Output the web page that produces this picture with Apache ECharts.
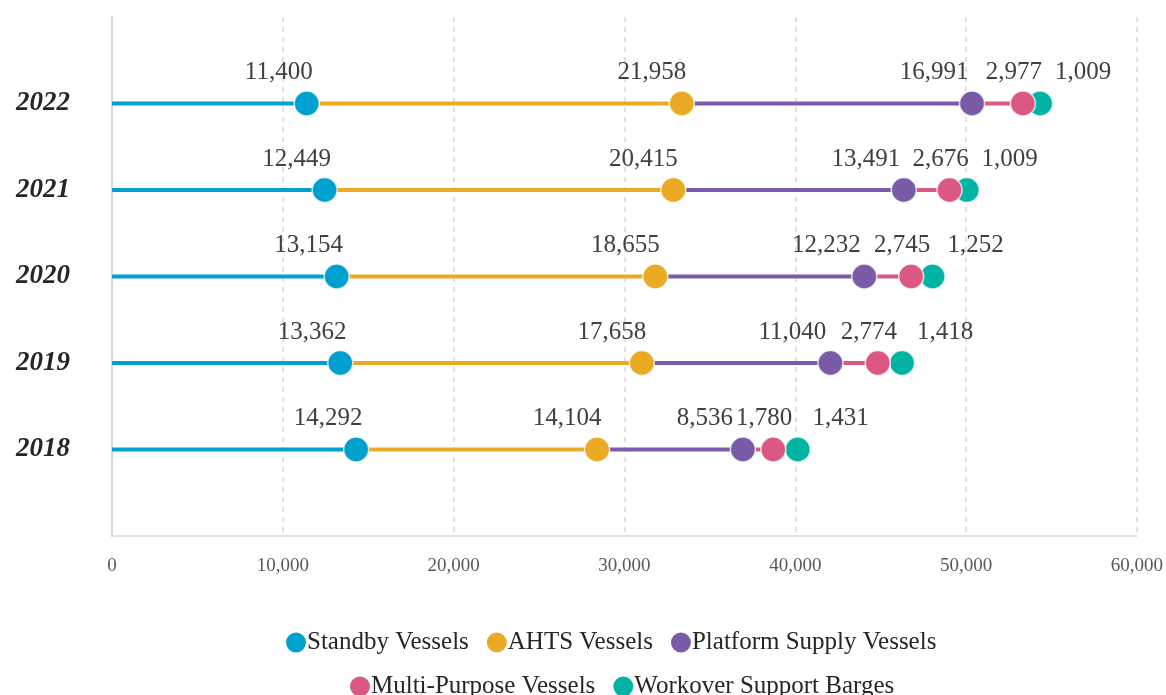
<!DOCTYPE html>
<html>
<head>
<meta charset="utf-8">
<script src="https://cdn.jsdelivr.net/npm/echarts@6/dist/echarts.min.js"></script>
<style>
html,body{margin:0;padding:0;background:#fff;}
#chart{width:1166px;height:695px;}
</style>
</head>
<body>
<div id="chart"></div>
<script>
const years = ['2018', '2019', '2020', '2021', '2022'];
const standby = [14292, 13362, 13154, 12449, 11400];
const ahts = [14104, 17658, 18655, 20415, 21958];
const platform = [8536, 11040, 12232, 13491, 16991];
const multiPurpose = [1780, 2774, 2745, 2676, 2977];
const workover = [1431, 1418, 1252, 1009, 1009];
const seriesNames = ['Standby Vessels', 'AHTS Vessels', 'Platform Supply Vessels', 'Multi-Purpose Vessels', 'Workover Support Barges'];
const xTicks = [0, 10000, 20000, 30000, 40000, 50000, 60000];

const colors = ['#00A0CF', '#EBAA24', '#7A5BA7', '#DB5883', '#00B3A2'];
const labelDx = [-28, -30, -38, -9, 43];
const allSeries = [standby, ahts, platform, multiPurpose, workover];
const SERIF = '"Liberation Serif", "DejaVu Serif", serif';

const cum = years.map(() => 0);
const seriesList = allSeries.map((vals, si) => {
  const data = vals.map((v, yi) => {
    const start = cum[yi];
    const end = start + v;
    cum[yi] = end;
    return [start, end, yi + 1, v];
  });
  return {
    name: seriesNames[si],
    type: 'custom',
    z: 10 - si,
    itemStyle: { color: colors[si] },
    encode: { x: [0, 1], y: 2 },
    data: data,
    renderItem: function (params, api) {
      const s = api.coord([api.value(0), api.value(2)]);
      const e = api.coord([api.value(1), api.value(2)]);
      const val = api.value(3);
      return {
        type: 'group',
        children: [
          { type: 'line', shape: { x1: s[0], y1: s[1], x2: e[0], y2: e[1] },
            style: { stroke: colors[si], lineWidth: 4 } },
          { type: 'circle', shape: { cx: e[0], cy: e[1], r: 12.5 },
            style: { fill: colors[si], stroke: 'rgba(255,255,255,0.75)', lineWidth: 1.5 } },
          { type: 'text', x: e[0] + labelDx[si], y: e[1] - 31,
            style: { text: val.toLocaleString('en-US'), fill: '#404040',
              font: '25px ' + SERIF, align: 'center', verticalAlign: 'middle' } }
        ]
      };
    }
  };
});

const legendBase = {
  icon: 'circle',
  itemWidth: 20, itemHeight: 20, itemGap: 18,
  textStyle: { fontSize: 25, color: '#262626', fontFamily: SERIF, lineHeight: 33, padding: [0, 0, 0, -4] }
};

const chart = echarts.init(document.getElementById('chart'));
chart.setOption({
  animation: false,
  grid: { left: 112, right: 28, top: 17, bottom: 159, containLabel: false },
  xAxis: {
    type: 'value', min: 0, max: 60000, interval: 10000,
    axisLine: { show: true, lineStyle: { color: '#D9D9D9', width: 1.5 } },
    axisTick: { show: false },
    splitLine: { show: true, lineStyle: { color: '#D9D9D9', type: [5, 5], width: 1.5 } },
    axisLabel: {
      margin: 21, color: '#595959', fontSize: 19, fontFamily: SERIF,
      formatter: function (v) { return xTicks.indexOf(v) >= 0 ? v.toLocaleString('en-US') : ''; }
    }
  },
  yAxis: {
    type: 'category', boundaryGap: false,
    data: [''].concat(years).concat(['']),
    axisLine: { show: true, lineStyle: { color: '#D9D9D9', width: 2 } },
    axisTick: { show: false },
    splitLine: { show: false },
    axisLabel: { margin: 42, color: '#262626', fontSize: 27, fontWeight: 'bold', fontStyle: 'italic', fontFamily: SERIF }
  },
  legend: [
    Object.assign({}, legendBase, { data: seriesNames.slice(0, 3), top: 621, left: 281 }),
    Object.assign({}, legendBase, { data: seriesNames.slice(3), top: 665, left: 345 })
  ],
  series: seriesList
});
</script>
</body>
</html>
